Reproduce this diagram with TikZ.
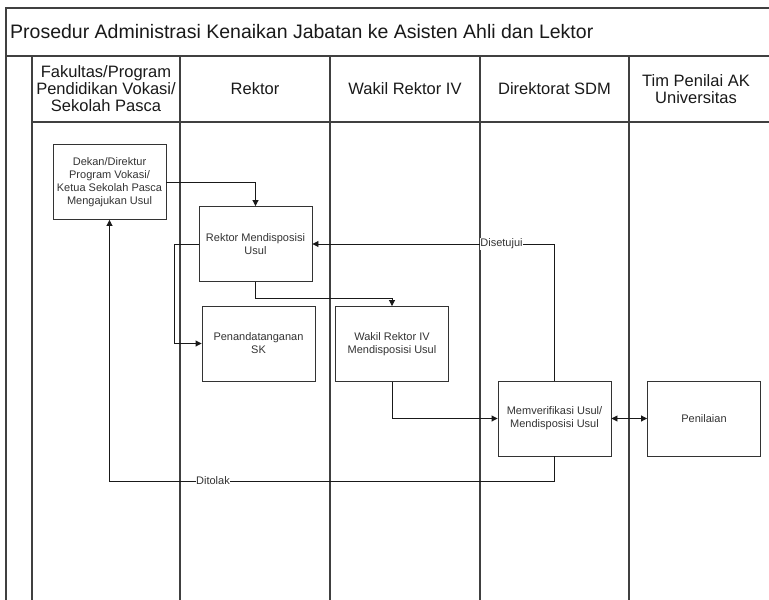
\documentclass[tikz,border=0pt]{standalone}
\usepackage{fontspec}
\setmainfont{Liberation Sans}
\usetikzlibrary{arrows.meta}
\begin{document}
\begin{tikzpicture}[x=1pt,y=-1pt,
  frame/.style={draw=black!75,line width=1.2pt},
  box/.style={draw=black!80,line width=0.9pt,minimum width=113pt,minimum height=75pt,align=center,
    font=\fontsize{11}{13}\selectfont,text=black!80,inner sep=1pt},
  conn/.style={draw=black!90,line width=0.9pt,-{Triangle[length=6pt,width=6pt]}},
  biconn/.style={draw=black!90,line width=0.9pt,{Triangle[length=6pt,width=6pt]}-{Triangle[length=6pt,width=6pt]}},
  lbl/.style={fill=white,inner sep=0.5pt,font=\fontsize{11}{13}\selectfont,text=black!80},
  hdr/.style={align=center,font=\fontsize{16.5}{17}\selectfont,text=black!90}]
\useasboundingbox (0,0) rectangle (769,600);
\begin{scope}
\clip (0,0) rectangle (769,600);
% frame
\draw[frame] (800,8) -- (6,8) -- (6,620);
\draw[frame] (6,56) -- (800,56);
\draw[frame] (32,122) -- (800,122);
\foreach \x in {32,180,330,480,629}{\draw[frame] (\x,56) -- (\x,620);}
\end{scope}
% title
\node[anchor=west,font=\fontsize{19.5}{21}\selectfont,text=black!90,inner sep=0pt] (title) at (10,32) {Prosedur Administrasi Kenaikan Jabatan ke Asisten Ahli dan Lektor};
% headers
\node[hdr] (h1) at (106,89) {Fakultas/Program\\Pendidikan Vokasi/\\Sekolah Pasca};
\node[hdr] (h2) at (255,89) {Rektor};
\node[hdr] (h3) at (405,89) {Wakil Rektor IV};
\node[hdr] (h4) at (554.5,89) {Direktorat SDM};
\node[hdr] (h5) at (696,89) {Tim Penilai AK\\Universitas};
% boxes
\node[box] (dekan) at (109.5,182) {Dekan/Direktur\\Program Vokasi/\\Ketua Sekolah Pasca\\Mengajukan Usul};
\node[box] (rmd) at (255.5,244) {Rektor Mendisposisi\\Usul};
\node[box] (sk) at (258.5,343.5) {Penandatanganan\\SK};
\node[box] (wr) at (392,344) {Wakil Rektor IV\\Mendisposisi Usul};
\node[box] (mv) at (554.5,418.5) {Memverifikasi Usul/\\Mendisposisi Usul};
\node[box] (pen) at (704,418.5) {Penilaian};
% connectors
\coordinate (c2) at (174,244);
\coordinate (c3) at (255.5,298);
\coordinate (c7) at (554.5,481);
\draw[conn] (dekan.east) -| (rmd.north);
\draw[conn] (rmd.west) -- (c2) |- (sk.west);
\draw[conn] (rmd.south) -- (c3) -| (wr.north);
\draw[conn] (wr.south) |- (mv.west);
\draw[conn] (mv.north) |- (rmd.east);
\draw[biconn] (mv.east) -- (pen.west);
\draw[conn] (mv.south) -- (c7) -| (dekan.south);
\node[lbl] (setuju) at (501.5,244) {Disetujui};
\node[lbl] (tolak) at (213,481) {Ditolak};
\end{tikzpicture}
\end{document}
